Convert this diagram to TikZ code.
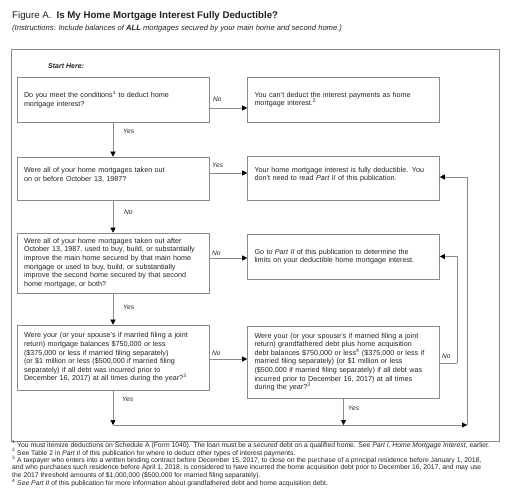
\documentclass[tikz,border=0pt]{standalone}
\usepackage{fontspec}
\setmainfont{Liberation Sans}
\usetikzlibrary{arrows.meta}
\definecolor{boxgray}{HTML}{8A8A8A}
\definecolor{linegray}{HTML}{8A8A8A}
\definecolor{txtcol}{HTML}{222222}
\newcommand\bxf{\fontsize{7.2}{8.6}\selectfont}
\newcommand\lbf{\fontsize{6.6}{8}\selectfont\itshape}
\newcommand\ftf{\fontsize{6.8}{7.3}\selectfont}
\begin{document}
\begin{tikzpicture}[x=1pt,y=-1pt,
  box/.style={draw=boxgray, line width=0.6pt, text width=178pt, inner xsep=7pt,
    inner ysep=0pt, align=left, font=\bxf, text=txtcol},
  conn/.style={draw=linegray, line width=0.6pt},
  arr/.style={conn, -{Triangle[length=5pt,width=5pt,color=black]}},
  lab/.style={font=\lbf, text=txtcol, inner sep=0pt, anchor=west},
  foot/.style={font=\ftf, text=txtcol, inner sep=0pt, anchor=base west, align=left}]
\useasboundingbox (0,0) rectangle (512,497);
% title
\node[inner sep=0pt, anchor=base west, text=txtcol] (title) at (12,18.5)
  {\fontsize{9.7}{11}\selectfont Figure A.\hspace{5pt}\textbf{Is My Home Mortgage Interest Fully Deductible?}};
\node[inner sep=0pt, anchor=base west, text=txtcol] (instr) at (12,30.5)
  {\fontsize{7.6}{8}\selectfont\itshape (Instructions: Include balances of \textbf{ALL} mortgages secured by your main home and second home.)};
% frame
\draw[draw=linegray, line width=0.6pt] (11,49) rectangle (499,441);
\node[inner sep=0pt, anchor=west, text=txtcol] (start) at (48,66)
  {\fontsize{7}{8}\selectfont\bfseries\itshape Start Here:};
% boxes
\node[box, minimum height=45pt] (b1) at (113,99.5)
  {Do you meet the conditions\textsuperscript{1} to deduct home\\mortgage interest?};
\node[box, minimum height=45pt] (b2) at (343.5,99.5)
  {You can't deduct the interest payments as home\\mortgage interest.\textsuperscript{2}};
\node[box, minimum height=43pt] (b3) at (113,178.5)
  {Were all of your home mortgages taken out\\on or before October 13, 1987?\\\mbox{}};
\node[box, minimum height=44pt] (b4) at (343.5,178)
  {Your home mortgage interest is fully deductible. You\\don't need to read \textit{Part II} of this publication.\\\mbox{}};
\node[box, minimum height=60pt] (b5) at (113,263)
  {Were all of your home mortgages taken out after\\October 13, 1987, used to buy, build, or substantially\\improve the main home secured by that main home\\mortgage or used to buy, build, or substantially\\improve the second home secured by that second\\home mortgage, or both?};
\node[box, minimum height=45pt] (b6) at (343.5,256.5)
  {Go to \textit{Part II} of this publication to determine the\\limits on your deductible home mortgage interest.};
\node[box, minimum height=65pt] (b7) at (113,357.5)
  {Were your (or your spouse's if married filing a joint\\return) mortgage balances \$750,000 or less\\(\$375,000 or less if married filing separately)\\(or \$1 million or less (\$500,000 if married filing\\separately) if all debt was incurred prior to\\December 16, 2017) at all times during the year?\textsuperscript{3}};
\node[box, minimum height=72pt] (b8) at (343.5,362)
  {Were your (or your spouse's if married filing a joint\\return) grandfathered debt plus home acquisition\\debt balances \$750,000 or less\textsuperscript{4} (\$375,000 or less if\\married filing separately) (or \$1 million or less\\(\$500,000 if married filing separately) if all debt was\\incurred prior to December 16, 2017) at all times\\during the year?\textsuperscript{3}};
% helper coordinates
\coordinate (c1) at (113,425);
\coordinate (c2) at (467,425);
\coordinate (c3) at (467,177);
\coordinate (c4) at (457,363);
\coordinate (c5) at (457,256.5);
% connectors
\draw[arr] (b1.east |- 0,108) -- (b2.west |- 0,108);
\draw[arr] (b1.south) -- (b3.north);
\draw[arr] (b3.east |- 0,173) -- (b4.west |- 0,173);
\draw[arr] (b3.south) -- (b5.north);
\draw[arr] (b5.east |- 0,258) -- (b6.west |- 0,258);
\draw[arr] (b5.south) -- (b7.north);
\draw[arr] (b7.east |- 0,359) -- (b8.west |- 0,359);
\draw[conn] (b8.east |- c4) -- (c4);
\draw[arr] (c4) -- (c5) -- (b6.east);
\draw[arr] (b7.south) -- (c1);
\draw[arr] (b8.south) -- (b8.south |- c1);
\draw[arr] (c1) -- (c2);
\draw[arr] (c2) -- (c3) -- (b4.east |- c3);
% labels
\node[lab] (l1) at (213,99) {No};
\node[lab] (l2) at (123,131) {Yes};
\node[lab] (l3) at (212,165) {Yes};
\node[lab] (l4) at (124,212) {No};
\node[lab] (l5) at (212,253) {No};
\node[lab] (l6) at (123,307) {Yes};
\node[lab] (l7) at (212,353) {No};
\node[lab] (l8) at (442,356) {No};
\node[lab] (l9) at (122,399) {Yes};
\node[lab] (l10) at (348,408) {Yes};
% footnotes
\node[foot] (f1) at (12,447)
  {\textsuperscript{1} You must itemize deductions on Schedule A (Form 1040). The loan must be a secured debt on a qualified home. See \textit{Part I, Home Mortgage Interest}, earlier.};
\node[foot] (f2) at (12,455)
  {\textsuperscript{2} See Table 2 in \textit{Part II} of this publication for where to deduct other types of interest payments.};
\node[foot] (f3) at (12,477)
  {\textsuperscript{3} A taxpayer who enters into a written binding contract before December 15, 2017, to close on the purchase of a principal residence before January 1, 2018,\\and who purchases such residence before April 1, 2018, is considered to have incurred the home acquisition debt prior to December 16, 2017, and may use\\the 2017 threshold amounts of \$1,000,000 (\$500,000 for married filing separately).};
\node[foot] (f4) at (12,485.5)
  {\textsuperscript{4} \textit{See Part II} of this publication for more information about grandfathered debt and home acquisition debt.};
\end{tikzpicture}
\end{document}
